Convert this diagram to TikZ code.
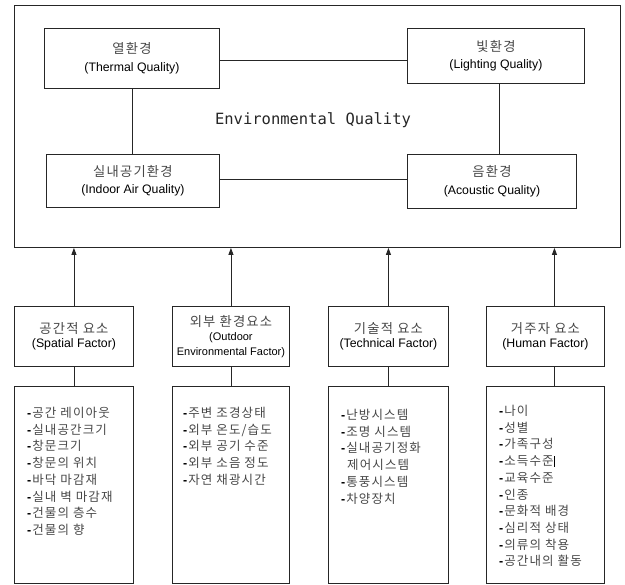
\documentclass[tikz,border=0pt]{standalone}
\usepackage{fontspec}
\setmainfont{Liberation Sans}
\newfontfamily\krf[LetterSpace=9]{Noto Sans CJK KR}
\newfontfamily\monof{DejaVu Sans Mono}
\usetikzlibrary{arrows.meta}
\newcommand\kor[1]{{\krf\color{black!72}#1}}
\newcommand\korh[1]{{\krf\fontsize{13.3}{14}\selectfont\color{black!72}#1}}
\newcommand\litem[1]{{\bfseries\color{black}-}\kern1pt\kor{#1}}
\begin{document}
\begin{tikzpicture}[x=1pt,y=-1pt,
  box/.style={draw=black!85, line width=0.9pt, rectangle, inner sep=0pt, anchor=north west, align=center},
  topbox/.style={box, font=\fontsize{12.3}{17.5}\selectfont},
  facbox/.style={box, font=\fontsize{12.3}{14.5}\selectfont},
  listbox/.style={box, minimum width=#1, minimum height=197.5pt},
  listtext/.style={anchor=north west, inner sep=0pt, align=left, font=\fontsize{12.5}{16.7}\selectfont},
  link/.style={draw=black!85, line width=0.9pt},
  arr/.style={link, -{Triangle[length=7pt,width=5pt]}}]
\useasboundingbox (0,0) rectangle (625,585);

% outer box
\node[box, minimum width=606pt, minimum height=242pt] (env) at (14,5) {};
\node[font=\monof\fontsize{15.5}{18}\selectfont, text=black!85] (envt) at (313,120) {Environmental Quality};

% quality boxes
\node[topbox, minimum width=175pt, minimum height=60pt] (th) at (44,28) {\korh{열환경}\\(Thermal Quality)};
\node[topbox, minimum width=177pt, minimum height=55pt] (li) at (407,28) {\korh{빛환경}\\(Lighting Quality)};
\node[topbox, minimum width=173pt, minimum height=53pt] (ia) at (46,154) {\korh{실내공기환경}\\(Indoor Air Quality)};
\node[topbox, minimum width=169pt, minimum height=54pt] (ac) at (407,154) {\korh{음환경}\\(Acoustic Quality)};

\draw[link] ([yshift=-2pt]th.east) -- ([yshift=-2pt]th.east -| li.west);
\draw[link] (th.south) -- (th.south |- ia.north);
\draw[link] ([xshift=3pt]li.south) -- ([xshift=3pt]li.south |- ac.north);
\draw[link] ([yshift=1.5pt]ia.east) -- ([yshift=1.5pt]ia.east -| ac.west);

% factor boxes
\node[facbox, minimum width=119pt, minimum height=60pt] (f1) at (14,306) {\korh{공간적 요소}\\(Spatial Factor)};
\node[facbox, minimum width=117pt, minimum height=60pt] (f2) at (172,306) {\korh{외부 환경요소}\\{\fontsize{11}{14}\selectfont (Outdoor}\\{\fontsize{11}{14}\selectfont Environmental Factor)}};
\node[facbox, minimum width=120pt, minimum height=60pt] (f3) at (328,306) {\korh{기술적 요소}\\(Technical Factor)};
\node[facbox, minimum width=118pt, minimum height=60pt] (f4) at (486,306) {\korh{거주자 요소}\\(Human Factor)};

\draw[arr] (f1.north) -- (f1.north |- env.south);
\draw[arr] (f2.north) -- (f2.north |- env.south);
\draw[arr] (f3.north) -- (f3.north |- env.south);
\draw[arr] ([xshift=9pt]f4.north) -- ([xshift=9pt]f4.north |- env.south);

% list boxes
\node[listbox=119pt] (l1) at (14,386) {};
\node[listbox=117pt] (l2) at (172,386) {};
\node[listbox=120pt] (l3) at (328,386) {};
\node[listbox=118pt] (l4) at (486,386) {};

\draw[link] (f1.south) -- (l1.north);
\draw[link] (f2.south) -- (l2.north);
\draw[link] (f3.south) -- (l3.north);
\draw[link] ([xshift=9pt]f4.south) -- ([xshift=9pt]l4.north);

\node[listtext] (t1) at (27,407) {\litem{공간 레이아웃}\\\litem{실내공간크기}\\\litem{창문크기}\\\litem{창문의 위치}\\\litem{바닥 마감재}\\\litem{실내 벽 마감재}\\\litem{건물의 층수}\\\litem{건물의 향}};
\node[listtext] (t2) at (183,407) {\litem{주변 조경상태}\\\litem{외부 온도/습도}\\\litem{외부 공기 수준}\\\litem{외부 소음 정도}\\\litem{자연 채광시간}};
\node[listtext] (t3) at (341,409) {\litem{난방시스템}\\\litem{조명 시스템}\\\litem{실내공기정화}\\\hspace*{6pt}\kor{제어시스템}\\\litem{통풍시스템}\\\litem{차양장치}};
\node[listtext] (t4) at (499,405) {\litem{나이}\\\litem{성별}\\\litem{가족구성}\\\litem{소득수준}\rule[-1pt]{1.6pt}{11pt}\\\litem{교육수준}\\\litem{인종}\\\litem{문화적 배경}\\\litem{심리적 상태}\\\litem{의류의 착용}\\\litem{공간내의 활동}};
\end{tikzpicture}
\end{document}
